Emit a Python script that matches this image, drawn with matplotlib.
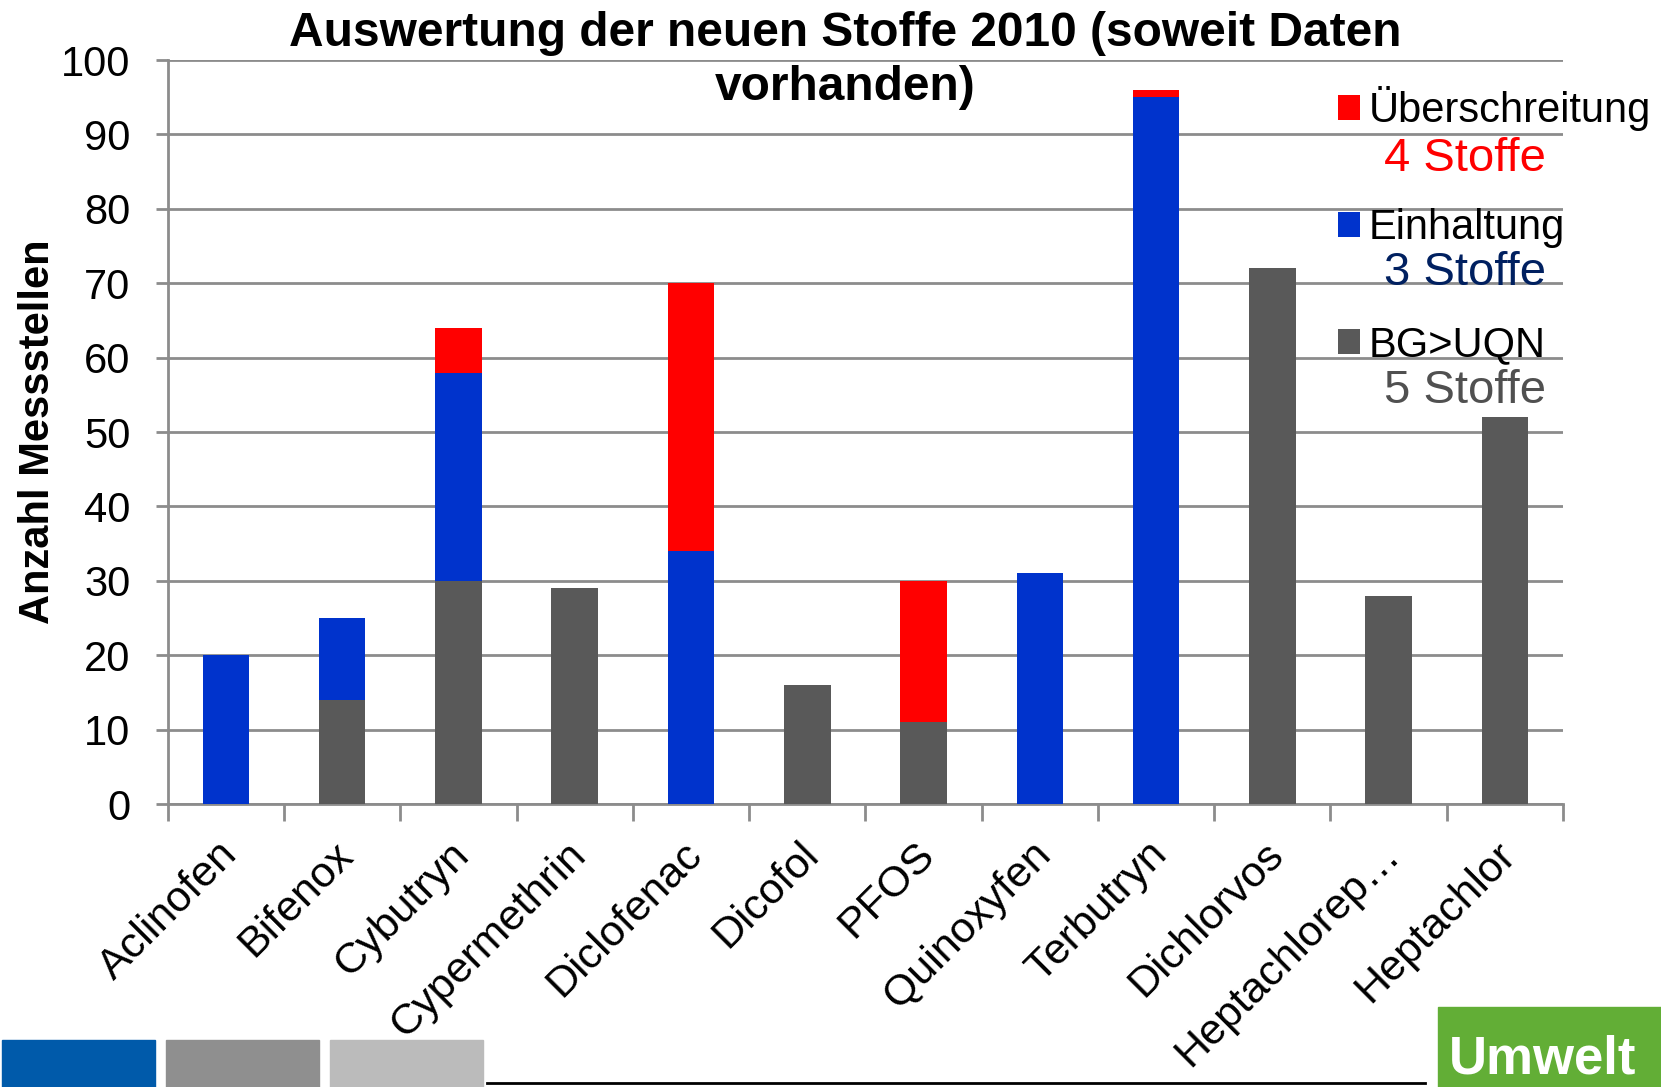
import matplotlib.pyplot as plt
import matplotlib.patches as mpatches
import matplotlib.transforms as mtransforms
import numpy as np

plt.rcParams['font.family'] = ['Liberation Sans', 'DejaVu Sans']

stoffe = ["Aclinofen", "Bifenox", "Cybutryn", "Cypermethrin", "Diclofenac",
          "Dicofol", "PFOS", "Quinoxyfen", "Terbutryn", "Dichlorvos",
          "Heptachlorep…", "Heptachlor"]
bg_uqn = [0, 14, 30, 29, 0, 16, 11, 0, 0, 72, 28, 52]
einhaltung = [20, 11, 28, 0, 34, 0, 0, 31, 95, 0, 0, 0]
ueberschreitung = [0, 0, 6, 0, 36, 0, 19, 0, 1, 0, 0, 0]

RED = "#FF0000"
BLUE = "#0033CC"
GREY = "#595959"
GRID = "#8C8C8C"

fig = plt.figure(figsize=(16.61, 10.87), dpi=100)
ax = fig.add_axes([0.101, 0.2603, 0.840, 0.6845])

x = np.arange(len(stoffe))
w = 0.4
b_bg = ax.bar(x, bg_uqn, w, color=GREY, label="BG>UQN", zorder=3)
bottom = np.array(bg_uqn)
b_ein = ax.bar(x, einhaltung, w, bottom=bottom, color=BLUE, label="Einhaltung", zorder=3)
bottom = bottom + np.array(einhaltung)
b_ueb = ax.bar(x, ueberschreitung, w, bottom=bottom, color=RED, label="Überschreitung", zorder=3)

ax.set_xlim(-0.5, len(stoffe) - 0.5)
ax.set_ylim(0, 100)
ax.set_yticks(range(0, 101, 10))
ax.yaxis.grid(True, color=GRID, linewidth=2, zorder=0)
ax.tick_params(axis='y', labelsize=30, length=9, width=2, color=GRID, pad=18)

ax.set_xticks(x)
ax.set_xticks(np.arange(-0.5, len(stoffe)), minor=True)
ax.tick_params(axis='x', which='major', length=0, pad=32)
ax.tick_params(axis='x', which='minor', length=12, width=2, color=GRID)
ax.set_xticklabels(stoffe, rotation=45, ha='right', va='center',
                   rotation_mode='anchor', fontsize=31)
shift = mtransforms.ScaledTranslation(5 / 100, 0, fig.dpi_scale_trans)
for lbl in ax.get_xticklabels():
    lbl.set_transform(lbl.get_transform() + shift)

for s in ("top", "right"):
    ax.spines[s].set_visible(False)
for s in ("left", "bottom"):
    ax.spines[s].set_color(GRID)
    ax.spines[s].set_linewidth(2)

ax.set_ylabel("Anzahl Messstellen", fontsize=30, fontweight='bold', labelpad=2)

fig.text(0.509, 0.944, "Auswertung der neuen Stoffe 2010 (soweit Daten\nvorhanden)",
         ha='center', va='center', fontsize=34.5, fontweight='bold', linespacing=1.25)

leg = ax.legend(handles=[b_ueb, b_ein, b_bg], loc='upper left',
                bbox_to_anchor=(0.816, 1.007), frameon=False, fontsize=30,
                handlelength=0.55, handleheight=0.55, handletextpad=0.2,
                labelspacing=1.85, borderpad=0.25)
leg.set_zorder(5)

for label, color, y in [("4 Stoffe", RED, 0.854),
                        ("3 Stoffe", "#002060", 0.749),
                        ("5 Stoffe", "#505050", 0.640)]:
    fig.text(0.882, y, label, color=color, fontsize=34, ha='center', va='center')

# footer strip
for x0, x1, c in [(2, 155, "#005AAA"), (166, 319, "#8F8F8F"), (330, 483, "#BBBBBB")]:
    fig.patches.append(mpatches.Rectangle((x0 / 1661, 0), (x1 - x0) / 1661, 47 / 1087,
                                          transform=fig.transFigure, color=c))
fig.add_artist(plt.Line2D([487 / 1661, 1425 / 1661], [4 / 1087, 4 / 1087],
                          transform=fig.transFigure, color="black", linewidth=2))
fig.patches.append(mpatches.Rectangle((1438 / 1661, 0), 223 / 1661, 80 / 1087,
                                      transform=fig.transFigure, color="#62AE36"))
fig.text(1449 / 1661, 13 / 1087, "Umwelt", color="white", fontsize=38,
         fontweight='bold', ha='left', va='baseline')

fig.savefig("out.png", dpi=100)
